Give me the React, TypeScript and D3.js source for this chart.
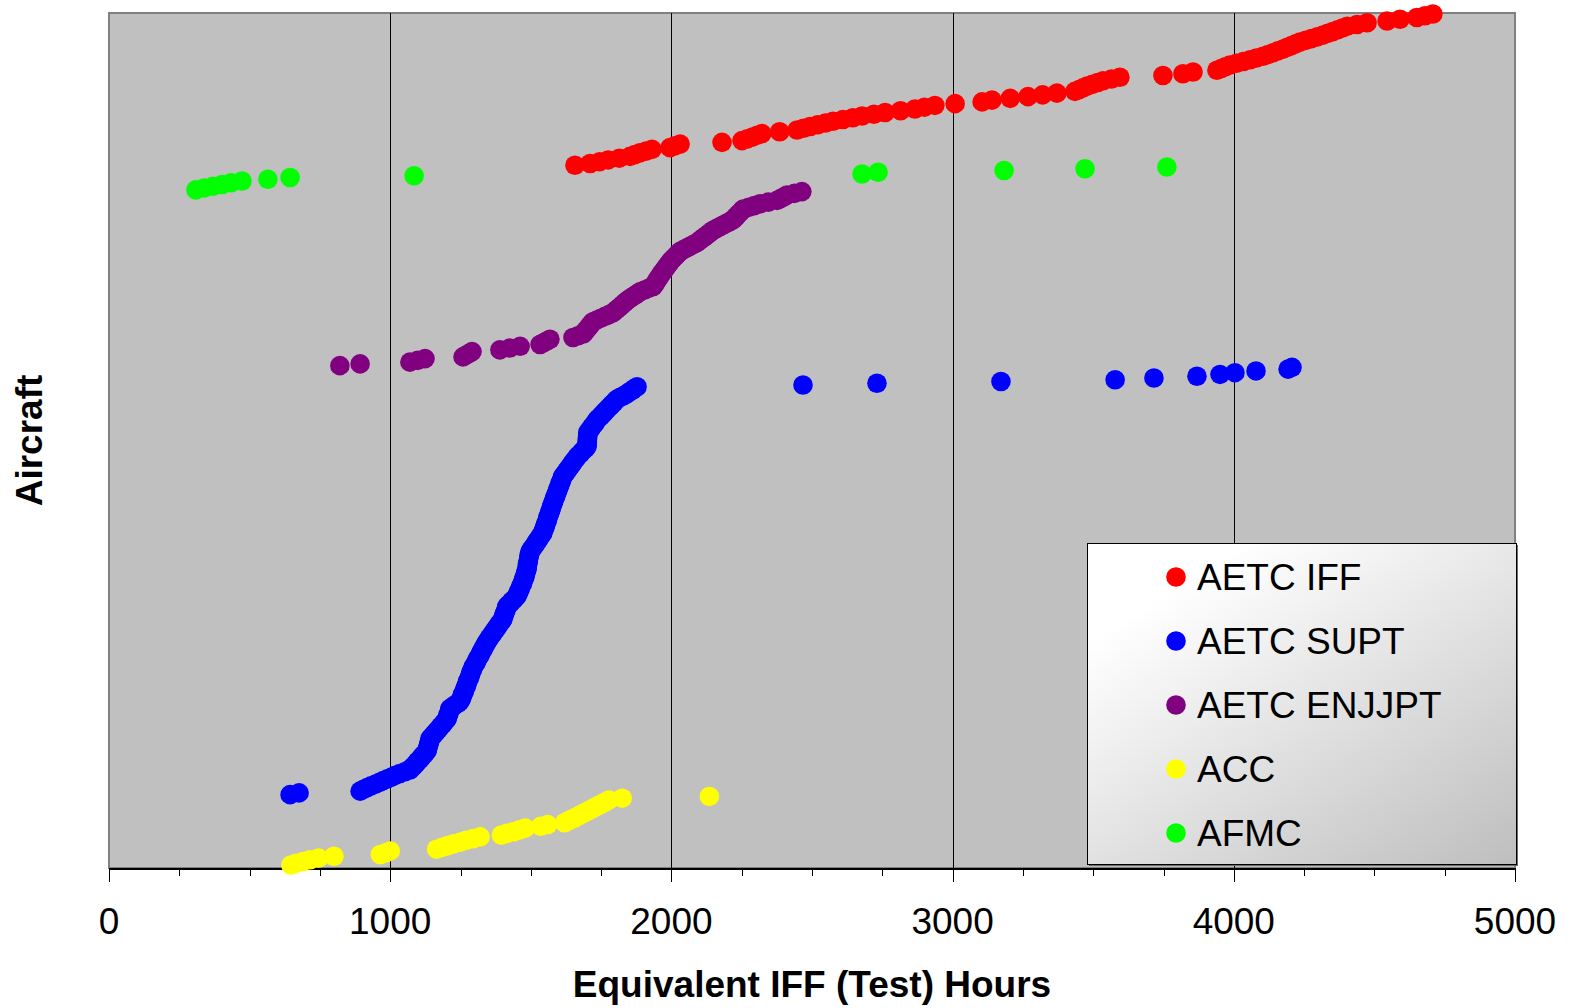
import { useEffect, useRef } from "react";
import * as d3 from "d3";

const W = 1572, H = 1008;
const PLOT = { l: 109, r: 1515, t: 13, b: 868 };
const FONT = "'Liberation Sans', Arial, sans-serif";

const SERIES = ["AETC IFF", "AETC SUPT", "AETC ENJJPT", "ACC", "AFMC"];
const COLORS = ["#FF0000", "#0000FF", "#800080", "#FFFF00", "#00FF00"];
// aircraft are ranked bottom -> top in this order
const STACK = ["ACC", "AETC SUPT", "AETC ENJJPT", "AFMC", "AETC IFF"];

const X_TICKS = [0, 1000, 2000, 3000, 4000, 5000];
const X_MINOR = d3.range(0, 5001, 250);

const ACC_HRS = [647, 665, 690, 715, 745, 800, 965, 985, 1000, 1165, 1185, 1205, 1225, 1250, 1270, 1295, 1320,
  1395, 1415, 1440, 1460, 1480, 1535, 1560, 1620, 1632, 1645, 1658, 1670, 1682, 1694, 1706, 1718, 1730, 1742,
  1754, 1766, 1778, 1825, 2135];

const SUPT_HRS = [644, 676, 893,
  905, 918, 932, 948, 962, 975, 990, 1005, 1018, 1034, 1052, 1070,
  1075, 1082, 1088, 1093, 1098, 1105, 1110, 1114, 1121, 1126, 1131,
  1133, 1134, 1136, 1138, 1139, 1141, 1142,
  1149, 1153, 1160, 1164, 1171, 1175, 1180, 1187, 1191, 1196, 1202,
  1204, 1205, 1208, 1210, 1211, 1213,
  1222, 1230, 1241, 1248,
  1250, 1254, 1256, 1257, 1261, 1264, 1265, 1268, 1271, 1273, 1274, 1277, 1281, 1282, 1285, 1287, 1288, 1292, 1294,
  1296, 1301, 1305, 1307, 1310, 1314, 1318, 1321, 1323, 1328, 1331, 1333, 1338, 1341, 1344,
  1349, 1352, 1357, 1362, 1365, 1370, 1376, 1378, 1384, 1387, 1392, 1398, 1401,
  1402, 1405, 1406, 1409, 1412, 1413, 1415,
  1420, 1428, 1432, 1440, 1445, 1451,
  1453, 1457, 1458, 1462, 1464, 1466, 1470, 1472,
  1473, 1476, 1479, 1480, 1481, 1484, 1486,
  1487, 1488, 1488, 1490, 1491, 1492, 1493, 1494, 1496, 1497,
  1500, 1506, 1509, 1514, 1519, 1521, 1527, 1530, 1534, 1540, 1543,
  1544, 1547, 1550, 1551, 1553, 1556, 1559, 1560, 1561, 1564, 1567, 1568, 1571, 1573, 1574, 1577, 1579,
  1582, 1583, 1586, 1589, 1590, 1593, 1596, 1597, 1600, 1603, 1604, 1607, 1610, 1611, 1614,
  1618, 1624, 1627, 1633, 1636, 1642, 1645, 1651, 1654, 1660, 1664,
  1669, 1677, 1681, 1688, 1695, 1700,
  1700, 1700, 1701, 1701, 1702, 1702, 1703, 1703,
  1707, 1713, 1716, 1722, 1727, 1730, 1735,
  1740, 1748, 1752, 1760, 1764, 1771,
  1776, 1784, 1788, 1796, 1800, 1807,
  1818, 1831, 1842,
  1850, 1861, 1868, 1878,
  2468, 2731, 3172, 3578, 3716, 3869, 3951, 4004, 4079, 4193, 4207];

const ENJJPT_HRS = [821, 893, 1070, 1098, 1124, 1259, 1270, 1281, 1291, 1390, 1425, 1462, 1533, 1545, 1557, 1568,
  1650, 1668, 1686,
  1691, 1696, 1701, 1706, 1711, 1716, 1721,
  1735, 1749, 1764, 1778, 1792,
  1799, 1806, 1814, 1821, 1828, 1835, 1842,
  1851, 1860, 1870, 1879, 1888,
  1904, 1919, 1935,
  1939, 1943, 1947, 1951, 1955, 1959,
  1963, 1968, 1972, 1977, 1982, 1986, 1991, 1995,
  2001, 2007, 2013, 2019, 2025, 2031,
  2043, 2055, 2067, 2079, 2091,
  2099, 2107, 2116, 2124, 2132, 2140, 2148,
  2160, 2172, 2184, 2196, 2208, 2219,
  2225, 2231, 2237, 2243, 2249, 2255,
  2275, 2295, 2315, 2345, 2376, 2388, 2400, 2411, 2438, 2464];

const AFMC_HRS = [309, 338, 370, 402, 434, 473, 565, 644, 1085, 2678, 2735, 3183, 3471, 3762];

const IFF_HRS = [1657, 1711, 1745, 1775, 1815, 1853, 1870, 1888, 1910, 1931, 1995, 2012, 2031, 2180, 2251,
  2270, 2288, 2305, 2322, 2385, 2447, 2470, 2493, 2520, 2548, 2575, 2610, 2645, 2678, 2720, 2760, 2815, 2866,
  2900, 2937, 3009, 3105, 3140, 3205, 3268, 3320, 3371, 3435, 3450, 3464, 3478, 3497, 3516, 3535, 3565, 3595,
  3748, 3819, 3855, 3940, 3955, 3970, 3986, 4010, 4034, 4058, 4080, 4104, 4122, 4140, 4157, 4175, 4190, 4205,
  4220, 4235, 4256, 4276, 4297, 4317, 4334, 4352, 4369, 4386, 4403, 4438, 4474, 4545, 4591, 4651, 4680, 4708];

const HOURS: Record<string, number[]> = {
  "AETC IFF": IFF_HRS,
  "AETC SUPT": SUPT_HRS,
  "AETC ENJJPT": ENJJPT_HRS,
  "ACC": ACC_HRS,
  "AFMC": AFMC_HRS,
};

export default function App() {
  const svgRef = useRef<SVGSVGElement>(null);

  useEffect(() => {
    const svg = d3.select(svgRef.current).attr("width", W).attr("height", H);
    svg.selectAll("*").remove();

    // rank of each aircraft on the (unlabelled) y axis
    const offset: Record<string, number> = {};
    let n = 0;
    STACK.forEach(s => { offset[s] = n; n += HOURS[s].length; });

    const xS = d3.scaleLinear().domain([0, 5000]).range([PLOT.l, PLOT.r]);
    const yS = d3.scaleLinear().domain([0, n - 1]).range([865, 14]);

    const defs = svg.append("defs");
    const grad = defs.append("linearGradient").attr("id", "lgd").attr("x1", 0.25).attr("y1", 0.1).attr("x2", 1).attr("y2", 1);
    grad.append("stop").attr("offset", "0%").attr("stop-color", "#FFFFFF");
    grad.append("stop").attr("offset", "100%").attr("stop-color", "#BEBEBE");

    svg.append("rect").attr("width", W).attr("height", H).attr("fill", "white");

    // plot area
    svg.append("rect").attr("x", PLOT.l).attr("y", PLOT.t).attr("width", PLOT.r - PLOT.l).attr("height", PLOT.b - PLOT.t)
      .attr("fill", "#C0C0C0").attr("stroke", "#808080").attr("stroke-width", 2);

    X_TICKS.slice(1, -1).forEach(v => svg.append("line")
      .attr("x1", Math.round(xS(v)) + 0.5).attr("x2", Math.round(xS(v)) + 0.5)
      .attr("y1", PLOT.t).attr("y2", PLOT.b).attr("stroke", "#000").attr("stroke-width", 1));

    // x axis
    svg.append("line").attr("x1", PLOT.l).attr("x2", PLOT.r + 1).attr("y1", 869).attr("y2", 869)
      .attr("stroke", "#000").attr("stroke-width", 2);
    X_MINOR.forEach(v => {
      const major = v % 1000 === 0;
      svg.append("line").attr("x1", Math.round(xS(v)) + 0.5).attr("x2", Math.round(xS(v)) + 0.5)
        .attr("y1", 869).attr("y2", major ? 882 : 876).attr("stroke", "#000").attr("stroke-width", 1);
    });
    X_TICKS.forEach(v => svg.append("text").attr("x", xS(v)).attr("y", 934).attr("text-anchor", "middle")
      .attr("font-family", FONT).attr("font-size", 37).attr("fill", "#000").text(String(v)));

    svg.append("text").attr("x", (PLOT.l + PLOT.r) / 2).attr("y", 997).attr("text-anchor", "middle")
      .attr("font-family", FONT).attr("font-size", 37).attr("font-weight", "bold").text("Equivalent IFF (Test) Hours");
    svg.append("text").attr("transform", `translate(42,${(PLOT.t + PLOT.b) / 2}) rotate(-90)`).attr("text-anchor", "middle")
      .attr("font-family", FONT).attr("font-size", 37).attr("font-weight", "bold").text("Aircraft");

    // points
    SERIES.forEach((s, si) => {
      svg.append("g").selectAll("circle").data(HOURS[s]).join("circle")
        .attr("cx", d => xS(d)).attr("cy", (_, i) => yS(offset[s] + i)).attr("r", 9.8)
        .attr("fill", COLORS[si]);
    });

    // legend
    const lg = svg.append("g").attr("transform", "translate(1087,543)");
    lg.append("rect").attr("x", 2).attr("y", 2).attr("width", 429).attr("height", 321).attr("fill", "#6A6A6A");
    lg.append("rect").attr("x", 0.5).attr("y", 0.5).attr("width", 429).attr("height", 321)
      .attr("fill", "url(#lgd)").attr("stroke", "#000").attr("stroke-width", 1);
    SERIES.forEach((s, si) => {
      const cy = 34 + si * 64;
      lg.append("circle").attr("cx", 89).attr("cy", cy).attr("r", 9.8).attr("fill", COLORS[si]);
      lg.append("text").attr("x", 110).attr("y", cy + 13).attr("font-family", FONT).attr("font-size", 37)
        .attr("fill", "#000").text(s);
    });
  }, []);

  return (
    <div style={{ position: "absolute", left: 0, top: 0 }}>
      <svg ref={svgRef} style={{ display: "block" }} />
    </div>
  );
}
